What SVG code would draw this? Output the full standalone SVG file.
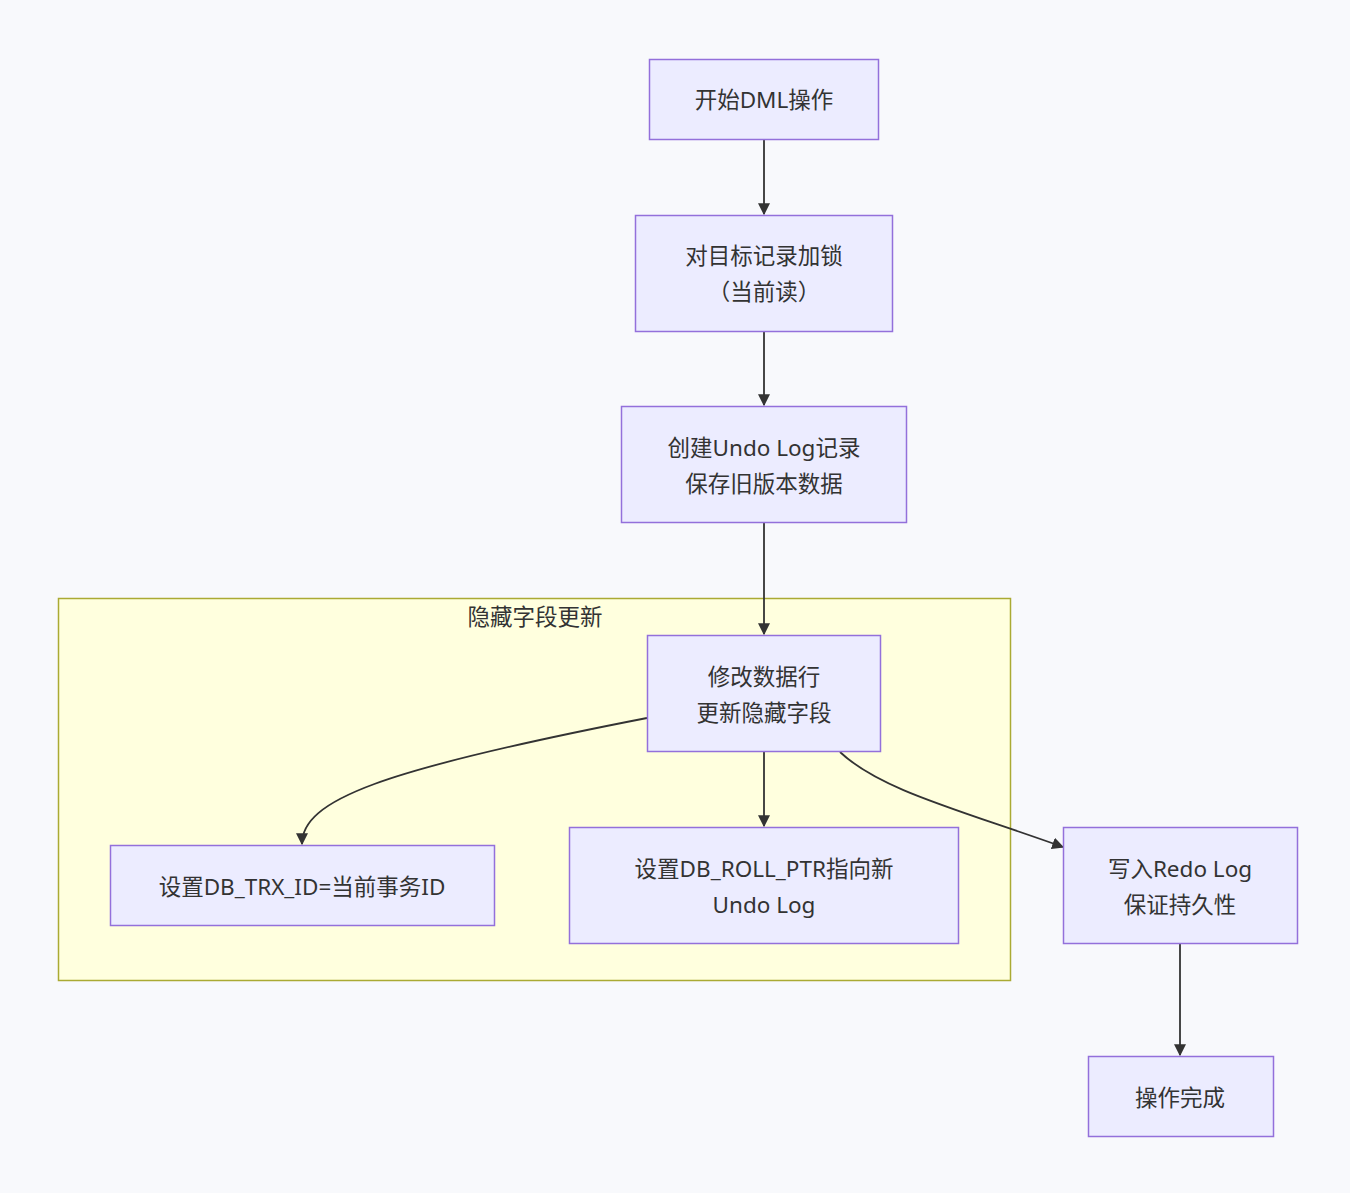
<svg xmlns="http://www.w3.org/2000/svg" width="1350" height="1193" viewBox="0 0 1350 1193">
<style>
.node rect{fill:#ececff;stroke:#9370db;stroke-width:1.5px}
.cluster rect{fill:#ffffde;stroke:#aaaa33;stroke-width:1.5px}
text{font-family:"Noto Sans","Noto Sans CJK SC",sans-serif;font-size:22.5px;fill:#333;text-anchor:middle;dominant-baseline:central}
.edge{fill:none;stroke:#333;stroke-width:1.8px}
</style>
<defs>
<marker id="arr" viewBox="0 0 10 10" refX="9" refY="5" markerWidth="12" markerHeight="12" markerUnits="userSpaceOnUse" orient="auto">
<path d="M0,0 L10,5 L0,10 z" fill="#333"/>
</marker>
</defs>
<rect x="0" y="0" width="1350" height="1193" fill="#f8f9fc"/>
<g id="cluster-hidden" class="cluster">
<rect x="58.5" y="598.5" width="952" height="382"/>
<text x="535" y="616">隐藏字段更新</text>
</g>
<g id="edges">
<path class="edge" d="M764,140 L764,214" marker-end="url(#arr)"/>
<path class="edge" d="M764,331 L764,405" marker-end="url(#arr)"/>
<path class="edge" d="M764,523 L764,634" marker-end="url(#arr)"/>
<path class="edge" d="M647,718 C380,770 302,800 302,844" marker-end="url(#arr)"/>
<path class="edge" d="M764,752 L764,826" marker-end="url(#arr)"/>
<path class="edge" d="M840,752 C880,790 960,810 1063,847" marker-end="url(#arr)"/>
<path class="edge" d="M1180,944 L1180,1055" marker-end="url(#arr)"/>
</g>
<g id="n1" class="node"><rect x="649.5" y="59.5" width="229" height="80"/><text x="764" y="99.5">开始DML操作</text></g>
<g id="n2" class="node"><rect x="635.5" y="215.5" width="257" height="116"/><text x="764" y="255">对目标记录加锁</text><text x="764" y="291">（当前读）</text></g>
<g id="n3" class="node"><rect x="621.5" y="406.5" width="285" height="116"/><text x="764" y="447">创建Undo Log记录</text><text x="764" y="483">保存旧版本数据</text></g>
<g id="n4" class="node"><rect x="647.5" y="635.5" width="233" height="116"/><text x="764" y="676">修改数据行</text><text x="764" y="712">更新隐藏字段</text></g>
<g id="n5" class="node"><rect x="110.5" y="845.5" width="384" height="80"/><text x="302" y="886">设置DB_TRX_ID=当前事务ID</text></g>
<g id="n6" class="node"><rect x="569.5" y="827.5" width="389" height="116"/><text x="764" y="868">设置DB_ROLL_PTR指向新</text><text x="764" y="904">Undo Log</text></g>
<g id="n7" class="node"><rect x="1063.5" y="827.5" width="234" height="116"/><text x="1180" y="868">写入Redo Log</text><text x="1180" y="904">保证持久性</text></g>
<g id="n8" class="node"><rect x="1088.5" y="1056.5" width="185" height="80"/><text x="1180" y="1097">操作完成</text></g>
</svg>
